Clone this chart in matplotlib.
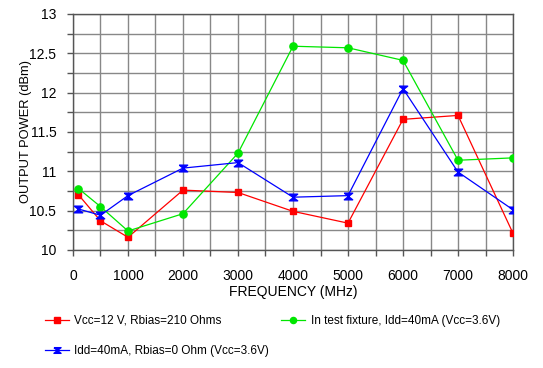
import matplotlib
matplotlib.use("Agg")
import matplotlib.pyplot as plt
import numpy as np

plt.rcParams['font.family'] = ['Liberation Sans', 'DejaVu Sans']

freq = [100, 500, 1000, 2000, 3000, 4000, 5000, 6000, 7000, 8000]
vcc12 = [10.70, 10.37, 10.16, 10.76, 10.73, 10.49, 10.34, 11.66, 11.71, 10.21]
fixture = [10.78, 10.55, 10.24, 10.46, 11.23, 12.59, 12.57, 12.41, 11.14, 11.17]
idd40 = [10.52, 10.44, 10.69, 11.04, 11.11, 10.67, 10.69, 12.05, 10.99, 10.51]

labels = ['Vcc=12 V, Rbias=210 Ohms',
          'In test fixture, Idd=40mA (Vcc=3.6V)',
          'Idd=40mA, Rbias=0 Ohm (Vcc=3.6V)']

# hourglass marker like the original
hourglass = [(-1, 0.8), (1, 0.8), (-1, -0.8), (1, -0.8), (-1, 0.8)]

fig = plt.figure(figsize=(5.43, 3.68), dpi=100)
ax = fig.add_axes([0.1344, 0.321, 0.8104, 0.641])

l_red, = ax.plot(freq, vcc12, color='#ff0000', lw=0.9, marker='s', ms=4.8, zorder=3)
l_green, = ax.plot(freq, fixture, color='#00e600', lw=0.9, marker='o', ms=5.2, zorder=3)
l_blue, = ax.plot(freq, idd40, color='#0000ff', lw=0.9, marker=hourglass, ms=6, zorder=3)

ax.set_xlim(0, 8000)
ax.set_ylim(10, 13)
ax.set_xticks(np.arange(0, 8001, 1000))
ax.set_xticks(np.arange(0, 8001, 500), minor=True)
ax.set_yticks([10, 10.5, 11, 11.5, 12, 12.5, 13])
ax.set_yticklabels(['10', '10.5', '11', '11.5', '12', '12.5', '13'])
ax.set_yticks(np.arange(10, 13.01, 0.25), minor=True)
ax.grid(True, which='both', color='#888888', lw=1)
ax.set_axisbelow(True)
ax.tick_params(which='both', direction='out', length=4, width=1, color='#555555',
               labelsize=10)
ax.tick_params(axis='x', pad=10)
ax.tick_params(axis='y', pad=8)
for s in ax.spines.values():
    s.set_color('#555555')
    s.set_linewidth(1)

ax.set_xlabel('FREQUENCY (MHz)', fontsize=10, labelpad=1)
ax.set_ylabel('OUTPUT POWER (dBm)', fontsize=9.3)
ax.yaxis.set_label_coords(-0.092, 0.5)

fig.legend([l_red, l_blue, l_green], [labels[0], labels[2], labels[1]],
           ncol=2, loc='upper left', bbox_to_anchor=(0.074, 0.157),
           frameon=False, fontsize=8.5, labelspacing=1.55,
           columnspacing=1.0, handlelength=2.0, handletextpad=0.5,
           borderaxespad=0, markerscale=0.85)

fig.savefig('out.png', dpi=100)
